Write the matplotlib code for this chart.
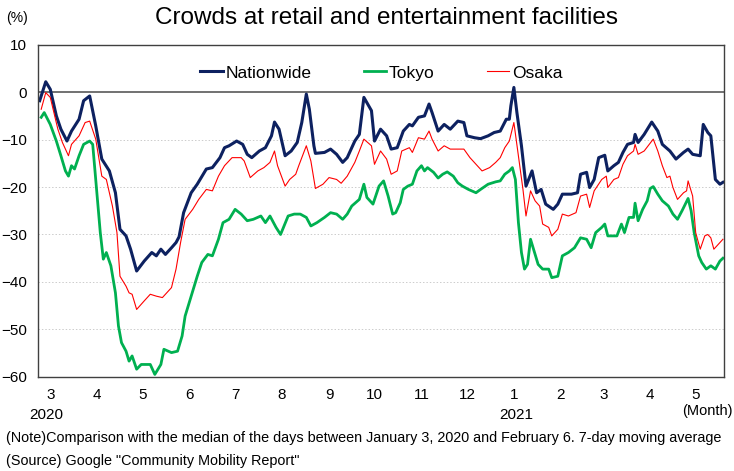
import numpy as np
import pandas as pd
import matplotlib
matplotlib.use("Agg")
import matplotlib.pyplot as plt
import matplotlib.dates as mdates

plt.rcParams['font.family'] = ['Liberation Sans', 'DejaVu Sans']

# ---- data (%, vs. baseline, 7-day moving average) ----
nat_dates = ["2020-02-23", "2020-02-27", "2020-03-01", "2020-03-05", "2020-03-08", "2020-03-12",
             "2020-03-15", "2020-03-20", "2020-03-23", "2020-03-27", "2020-03-31", "2020-04-04",
             "2020-04-09", "2020-04-13", "2020-04-16", "2020-04-20", "2020-04-23", "2020-04-27",
             "2020-05-02", "2020-05-07", "2020-05-10", "2020-05-13", "2020-05-16", "2020-05-20",
             "2020-05-23", "2020-05-25", "2020-05-28", "2020-06-02", "2020-06-06", "2020-06-12",
             "2020-06-16", "2020-06-21", "2020-06-24", "2020-06-27", "2020-07-02", "2020-07-06",
             "2020-07-09", "2020-07-12", "2020-07-17", "2020-07-21", "2020-07-25", "2020-07-27",
             "2020-07-30", "2020-08-03", "2020-08-07", "2020-08-11", "2020-08-14", "2020-08-17",
             "2020-08-19", "2020-08-22", "2020-08-23", "2020-08-29", "2020-09-02", "2020-09-06",
             "2020-09-10", "2020-09-13", "2020-09-18", "2020-09-21", "2020-09-24", "2020-09-29",
             "2020-10-01", "2020-10-05", "2020-10-09", "2020-10-12", "2020-10-16", "2020-10-20",
             "2020-10-24", "2020-10-26", "2020-10-30", "2020-11-03", "2020-11-06", "2020-11-08",
             "2020-11-12", "2020-11-16", "2020-11-20", "2020-11-25", "2020-11-29", "2020-12-01",
             "2020-12-06", "2020-12-10", "2020-12-15", "2020-12-19", "2020-12-23", "2020-12-27",
             "2020-12-29", "2020-12-30", "2021-01-01", "2021-01-03", "2021-01-06", "2021-01-09",
             "2021-01-13", "2021-01-16", "2021-01-19", "2021-01-22", "2021-01-27", "2021-01-30",
             "2021-02-02", "2021-02-08", "2021-02-12", "2021-02-14", "2021-02-18", "2021-02-20",
             "2021-02-23", "2021-02-26", "2021-03-02", "2021-03-04", "2021-03-08", "2021-03-11",
             "2021-03-14", "2021-03-17", "2021-03-21", "2021-03-22", "2021-03-24", "2021-03-28",
             "2021-04-02", "2021-04-06", "2021-04-09", "2021-04-14", "2021-04-18", "2021-04-23",
             "2021-04-26", "2021-04-29", "2021-05-04", "2021-05-06", "2021-05-09", "2021-05-11",
             "2021-05-14", "2021-05-17", "2021-05-19"]
nationwide = [-1.8, 2.2, 0.6, -5.0, -7.8, -10.3,
              -8.2, -5.7, -1.8, -0.8, -7.1, -14.1,
              -16.6, -21.2, -28.9, -30.3, -33.1, -37.7,
              -35.6, -33.8, -34.5, -33.1, -34.2, -32.8,
              -31.7, -30.5, -25.4, -21.2, -19.4, -16.2,
              -15.9, -13.8, -11.7, -11.3, -10.3, -11.0,
              -13.1, -13.8, -12.4, -11.7, -9.2, -6.3,
              -7.8, -13.4, -12.4, -10.6, -6.4, -0.4,
              -3.6, -11.3, -12.9, -12.7, -12.0, -13.1,
              -14.8, -13.8, -10.3, -8.9, -1.1, -3.9,
              -10.3, -7.8, -9.2, -12.0, -11.7, -8.2,
              -6.8, -7.1, -5.3, -5.0, -2.5, -4.3,
              -8.2, -6.8, -7.8, -6.1, -6.4, -9.2,
              -9.6, -9.8, -9.2, -8.5, -8.2, -5.7,
              -5.7, -2.9, 1.0, -4.3, -11.3, -19.8,
              -16.6, -21.2, -20.5, -23.6, -24.7, -23.6,
              -21.5, -21.5, -21.2, -17.3, -16.9, -20.1,
              -18.4, -13.8, -13.3, -16.6, -15.5, -14.8,
              -12.7, -11.0, -10.6, -8.9, -10.6, -8.9,
              -6.3, -8.2, -11.0, -12.4, -14.1, -12.7,
              -12.0, -13.1, -13.4, -6.8, -8.5, -9.2,
              -18.4, -19.4, -19.0]

tokyo_dates = ["2020-02-24", "2020-02-26", "2020-03-01", "2020-03-05", "2020-03-08", "2020-03-11",
               "2020-03-13", "2020-03-15", "2020-03-17", "2020-03-20", "2020-03-23", "2020-03-27",
               "2020-03-29", "2020-04-01", "2020-04-03", "2020-04-05", "2020-04-07", "2020-04-10",
               "2020-04-13", "2020-04-15", "2020-04-17", "2020-04-20", "2020-04-22", "2020-04-24",
               "2020-04-27", "2020-04-30", "2020-05-06", "2020-05-09", "2020-05-13", "2020-05-15",
               "2020-05-20", "2020-05-24", "2020-05-27", "2020-05-29", "2020-06-02", "2020-06-06",
               "2020-06-09", "2020-06-13", "2020-06-16", "2020-06-20", "2020-06-23", "2020-06-27",
               "2020-07-01", "2020-07-05", "2020-07-09", "2020-07-13", "2020-07-18", "2020-07-21",
               "2020-07-24", "2020-07-28", "2020-07-31", "2020-08-05", "2020-08-09", "2020-08-13",
               "2020-08-17", "2020-08-20", "2020-08-24", "2020-08-29", "2020-09-02", "2020-09-06",
               "2020-09-10", "2020-09-13", "2020-09-16", "2020-09-21", "2020-09-24", "2020-09-26",
               "2020-09-30", "2020-10-04", "2020-10-07", "2020-10-10", "2020-10-13", "2020-10-15",
               "2020-10-18", "2020-10-20", "2020-10-23", "2020-10-26", "2020-10-29", "2020-11-01",
               "2020-11-03", "2020-11-05", "2020-11-09", "2020-11-12", "2020-11-15", "2020-11-18",
               "2020-11-22", "2020-11-25", "2020-11-28", "2020-12-02", "2020-12-07", "2020-12-10",
               "2020-12-15", "2020-12-20", "2020-12-23", "2020-12-26", "2020-12-29", "2020-12-31",
               "2021-01-02", "2021-01-04", "2021-01-06", "2021-01-08", "2021-01-10", "2021-01-12",
               "2021-01-14", "2021-01-17", "2021-01-20", "2021-01-24", "2021-01-26", "2021-01-30",
               "2021-02-02", "2021-02-06", "2021-02-10", "2021-02-14", "2021-02-18", "2021-02-21",
               "2021-02-24", "2021-02-28", "2021-03-02", "2021-03-04", "2021-03-10", "2021-03-13",
               "2021-03-15", "2021-03-18", "2021-03-21", "2021-03-22", "2021-03-24", "2021-03-27",
               "2021-03-30", "2021-04-01", "2021-04-03", "2021-04-06", "2021-04-09", "2021-04-13",
               "2021-04-16", "2021-04-19", "2021-04-22", "2021-04-26", "2021-04-28", "2021-04-30",
               "2021-05-03", "2021-05-05", "2021-05-08", "2021-05-11", "2021-05-14", "2021-05-17",
               "2021-05-19"]
tokyo = [-5.3, -4.3, -6.8, -10.3, -13.4, -16.6,
         -17.7, -15.5, -16.2, -13.4, -11.0, -10.3,
         -11.0, -22.0, -29.6, -35.2, -33.8, -36.6,
         -42.3, -49.3, -52.8, -54.6, -56.7, -55.6,
         -58.4, -57.4, -57.4, -59.5, -57.4, -54.2,
         -54.9, -54.6, -51.4, -47.2, -43.0, -38.8,
         -35.9, -34.2, -34.5, -31.0, -27.5, -26.8,
         -24.7, -25.7, -27.1, -26.8, -26.1, -27.5,
         -26.1, -28.5, -30.0, -26.1, -25.7, -25.7,
         -26.4, -28.2, -27.5, -26.4, -25.4, -25.7,
         -26.8, -25.7, -24.0, -22.6, -19.4, -22.2,
         -23.6, -19.8, -18.7, -21.9, -25.7, -25.4,
         -23.3, -20.5, -19.8, -19.4, -16.6, -15.5,
         -16.6, -15.9, -16.9, -18.1, -17.3, -16.8,
         -17.7, -19.1, -19.8, -20.5, -21.2, -20.5,
         -19.4, -18.9, -18.7, -17.3, -16.6, -15.9,
         -18.4, -27.5, -33.8, -37.3, -36.3, -31.0,
         -33.1, -36.3, -37.3, -37.3, -39.1, -38.8,
         -34.5, -33.8, -32.8, -30.7, -31.0, -32.8,
         -29.6, -28.5, -27.8, -30.3, -30.3, -27.8,
         -29.6, -26.4, -26.4, -23.4, -27.1, -24.7,
         -22.9, -20.3, -19.9, -21.5, -22.9, -24.0,
         -25.7, -26.8, -25.0, -22.4, -25.0, -29.6,
         -34.5, -35.9, -37.3, -36.6, -37.3, -35.6,
         -35.0]

osaka_dates = ["2020-02-24", "2020-02-27", "2020-03-01", "2020-03-06", "2020-03-09", "2020-03-13",
               "2020-03-15", "2020-03-20", "2020-03-24", "2020-03-27", "2020-03-31", "2020-04-04",
               "2020-04-07", "2020-04-11", "2020-04-14", "2020-04-16", "2020-04-20", "2020-04-22",
               "2020-04-24", "2020-04-27", "2020-05-02", "2020-05-06", "2020-05-10", "2020-05-14",
               "2020-05-20", "2020-05-23", "2020-05-26", "2020-05-29", "2020-06-03", "2020-06-07",
               "2020-06-12", "2020-06-16", "2020-06-20", "2020-06-24", "2020-06-29", "2020-07-05",
               "2020-07-07", "2020-07-11", "2020-07-16", "2020-07-20", "2020-07-24", "2020-07-27",
               "2020-07-29", "2020-08-03", "2020-08-06", "2020-08-10", "2020-08-12", "2020-08-17",
               "2020-08-20", "2020-08-23", "2020-08-28", "2020-09-01", "2020-09-06", "2020-09-09",
               "2020-09-13", "2020-09-18", "2020-09-21", "2020-09-24", "2020-09-29", "2020-10-01",
               "2020-10-05", "2020-10-09", "2020-10-12", "2020-10-16", "2020-10-19", "2020-10-24",
               "2020-10-26", "2020-10-30", "2020-11-03", "2020-11-06", "2020-11-08", "2020-11-12",
               "2020-11-16", "2020-11-20", "2020-11-25", "2020-11-29", "2020-12-03", "2020-12-07",
               "2020-12-11", "2020-12-16", "2020-12-20", "2020-12-23", "2020-12-26", "2020-12-29",
               "2021-01-01", "2021-01-04", "2021-01-07", "2021-01-09", "2021-01-12", "2021-01-15",
               "2021-01-18", "2021-01-20", "2021-01-24", "2021-01-26", "2021-01-30", "2021-02-02",
               "2021-02-06", "2021-02-11", "2021-02-14", "2021-02-18", "2021-02-20", "2021-02-23",
               "2021-02-28", "2021-03-03", "2021-03-04", "2021-03-08", "2021-03-11", "2021-03-14",
               "2021-03-17", "2021-03-21", "2021-03-22", "2021-03-24", "2021-03-28", "2021-04-03",
               "2021-04-06", "2021-04-09", "2021-04-12", "2021-04-14", "2021-04-16", "2021-04-19",
               "2021-04-23", "2021-04-25", "2021-04-26", "2021-04-29", "2021-05-01", "2021-05-04",
               "2021-05-07", "2021-05-09", "2021-05-11", "2021-05-13", "2021-05-17", "2021-05-19"]
osaka = [-3.6, -0.1, -1.1, -7.8, -10.6, -13.4,
         -11.0, -9.2, -6.4, -6.1, -9.9, -17.7,
         -18.4, -24.0, -29.6, -38.8, -40.9, -42.3,
         -42.6, -45.8, -44.0, -42.6, -43.0, -43.3,
         -41.2, -37.3, -31.7, -26.8, -24.7, -22.6,
         -20.5, -20.8, -17.7, -15.5, -13.8, -13.8,
         -14.5, -18.0, -16.6, -15.9, -14.8, -12.4,
         -15.5, -19.8, -18.4, -17.3, -15.5, -11.3,
         -14.5, -20.3, -19.4, -18.0, -18.4, -19.2,
         -17.7, -14.8, -12.4, -9.9, -11.3, -15.2,
         -12.4, -14.1, -17.3, -16.6, -12.4, -11.7,
         -12.7, -9.6, -9.9, -8.2, -9.9, -12.4,
         -11.3, -12.0, -12.0, -12.0, -13.8, -15.2,
         -16.6, -15.9, -14.8, -13.8, -11.7, -10.3,
         -6.4, -13.4, -20.5, -26.1, -20.8, -22.9,
         -24.0, -27.8, -28.5, -30.3, -28.9, -25.7,
         -26.1, -25.4, -21.9, -21.5, -24.3, -20.8,
         -18.4, -17.7, -20.1, -18.4, -18.0, -15.2,
         -13.4, -12.4, -11.0, -13.1, -12.4, -9.9,
         -12.4, -15.5, -18.0, -17.7, -20.1, -22.6,
         -21.2, -20.8, -18.7, -21.9, -29.6, -33.1,
         -30.3, -30.0, -30.7, -33.1, -31.7, -31.0]

fig = plt.figure(figsize=(7.34, 4.71), dpi=100)
ax = fig.add_axes([0.052, 0.2, 0.935, 0.705])

ax.plot(pd.to_datetime(nat_dates), nationwide, color="#0d2160", lw=2.2, label="Nationwide")
ax.plot(pd.to_datetime(tokyo_dates), tokyo, color="#00b050", lw=2.0, label="Tokyo")
ax.plot(pd.to_datetime(osaka_dates), osaka, color="#ff0000", lw=0.8, label="Osaka")

ax.set_ylim(-60, 10)
ax.set_yticks(np.arange(-60, 11, 10))
ax.set_xlim(pd.Timestamp("2020-02-22"), pd.Timestamp("2021-05-20"))
ax.xaxis.set_major_locator(mdates.MonthLocator())
ax.xaxis.set_major_formatter(plt.FuncFormatter(lambda v, p: str(mdates.num2date(v).month)))

ax.tick_params(axis="both", length=0, labelsize=11)
ax.tick_params(axis="x", pad=8)
ax.tick_params(axis="y", pad=8)

for y in [-50, -40, -30, -20, -10]:
    ax.axhline(y, color="#cccccc", lw=0.7, ls=(0, (1.5, 2)), zorder=0)
ax.axhline(0, color="#595959", lw=1.2, zorder=1)

for s in ax.spines.values():
    s.set_color("#404040")
    s.set_linewidth(1.0)

ax.legend(loc="upper center", bbox_to_anchor=(0.5, 0.985), ncol=3, frameon=False,
          fontsize=12.5, handlelength=1.3, handletextpad=0.15, columnspacing=3.0)

fig.text(0.527, 0.962, "Crowds at retail and entertainment facilities", ha="center", va="center",
         fontsize=17.5)
fig.text(0.008, 0.962, "(%)", ha="left", va="center", fontsize=10)
fig.text(0.04, 0.118, "2020", ha="left", va="center", fontsize=11)
fig.text(0.68, 0.118, "2021", ha="left", va="center", fontsize=11)
fig.text(0.998, 0.128, "(Month)", ha="right", va="center", fontsize=10.5)
fig.text(0.008, 0.07, "(Note)Comparison with the median of the days between January 3, 2020 and "
         "February 6. 7-day moving average", ha="left", va="center", fontsize=10.4)
fig.text(0.008, 0.022, "(Source) Google \"Community Mobility Report\"", ha="left", va="center",
         fontsize=10.4)

fig.savefig("out.png", dpi=100)
